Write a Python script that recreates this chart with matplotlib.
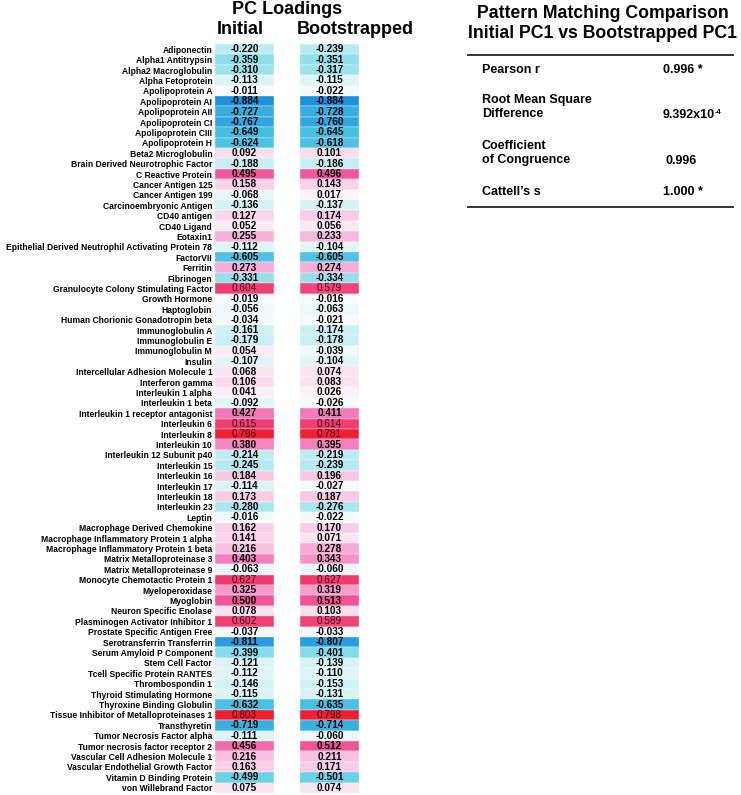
import numpy as np
import matplotlib
matplotlib.use('Agg')
import matplotlib.pyplot as plt
from matplotlib.colors import LinearSegmentedColormap, Normalize
from matplotlib.lines import Line2D

plt.rcParams['font.family'] = ['Liberation Sans', 'DejaVu Sans']
plt.rcParams['font.weight'] = 'bold'

# ── Data ───────────────────────────────────────────────────────────────────
markers = [
    'Adiponectin', 'Alpha1 Antitrypsin', 'Alpha2 Macroglobulin', 'Alpha Fetoprotein',
    'Apolipoprotein A', 'Apolipoprotein AI', 'Apolipoprotein AII', 'Apolipoprotein CI',
    'Apolipoprotein CIII', 'Apolipoprotein H', 'Beta2 Microglobulin',
    'Brain Derived Neurotrophic Factor', 'C Reactive Protein', 'Cancer Antigen 125',
    'Cancer Antigen 199', 'Carcinoembryonic Antigen', 'CD40 antigen', 'CD40 Ligand',
    'Eotaxin1', 'Epithelial Derived Neutrophil Activating Protein 78', 'FactorVII',
    'Ferritin', 'Fibrinogen', 'Granulocyte Colony Stimulating Factor', 'Growth Hormone',
    'Haptoglobin', 'Human Chorionic Gonadotropin beta', 'Immunoglobulin A',
    'Immunoglobulin E', 'Immunoglobulin M', 'Insulin', 'Intercellular Adhesion Molecule 1',
    'Interferon gamma', 'Interleukin 1 alpha', 'Interleukin 1 beta',
    'Interleukin 1 receptor antagonist', 'Interleukin 6', 'Interleukin 8', 'Interleukin 10',
    'Interleukin 12 Subunit p40', 'Interleukin 15', 'Interleukin 16', 'Interleukin 17',
    'Interleukin 18', 'Interleukin 23', 'Leptin', 'Macrophage Derived Chemokine',
    'Macrophage Inflammatory Protein 1 alpha', 'Macrophage Inflammatory Protein 1 beta',
    'Matrix Metalloproteinase 3', 'Matrix Metalloproteinase 9',
    'Monocyte Chemotactic Protein 1', 'Myeloperoxidase', 'Myoglobin',
    'Neuron Specific Enolase', 'Plasminogen Activator Inhibitor 1',
    'Prostate Specific Antigen Free', 'Serotransferrin Transferrin',
    'Serum Amyloid P Component', 'Stem Cell Factor', 'Tcell Specific Protein RANTES',
    'Thrombospondin 1', 'Thyroid Stimulating Hormone', 'Thyroxine Binding Globulin',
    'Tissue Inhibitor of Metalloproteinases 1', 'Transthyretin',
    'Tumor Necrosis Factor alpha', 'Tumor necrosis factor receptor 2',
    'Vascular Cell Adhesion Molecule 1', 'Vascular Endothelial Growth Factor',
    'Vitamin D Binding Protein', 'von Willebrand Factor',
]

initial = [
    -0.220, -0.359, -0.310, -0.113, -0.011, -0.884, -0.727, -0.767, -0.649, -0.624,
    0.092, -0.188, 0.495, 0.158, -0.068, -0.136, 0.127, 0.052, 0.255, -0.112,
    -0.605, 0.273, -0.331, 0.604, -0.019, -0.056, -0.034, -0.161, -0.179, 0.054,
    -0.107, 0.068, 0.106, 0.041, -0.092, 0.427, 0.615, 0.796, 0.380, -0.214,
    -0.245, 0.184, -0.114, 0.173, -0.280, -0.016, 0.162, 0.141, 0.216, 0.403,
    -0.063, 0.627, 0.325, 0.500, 0.078, 0.602, -0.037, -0.811, -0.399, -0.121,
    -0.112, -0.146, -0.115, -0.632, 0.803, -0.719, -0.111, 0.456, 0.216, 0.163,
    -0.499, 0.075,
]

bootstrapped = [
    -0.239, -0.351, -0.317, -0.115, -0.022, -0.884, -0.728, -0.760, -0.645, -0.618,
    0.101, -0.186, 0.496, 0.143, 0.017, -0.137, 0.174, 0.056, 0.233, -0.104,
    -0.605, 0.274, -0.334, 0.579, -0.016, -0.063, -0.021, -0.174, -0.178, -0.039,
    -0.104, 0.074, 0.083, 0.026, -0.026, 0.411, 0.614, 0.781, 0.395, -0.219,
    -0.239, 0.196, -0.027, 0.187, -0.276, -0.022, 0.170, 0.071, 0.278, 0.343,
    -0.060, 0.627, 0.319, 0.513, 0.103, 0.589, -0.033, -0.807, -0.401, -0.139,
    -0.110, -0.153, -0.131, -0.635, 0.798, -0.714, -0.060, 0.512, 0.211, 0.171,
    -0.501, 0.074,
]

col_headers = ['Initial', 'Bootstrapped']

stat_names = ['Pearson r', 'Root Mean Square\nDifference', 'Coefficient\nof Congruence', "Cattell\u2019s s"]
stat_values = ['0.996 *', '9.392x10', '0.996', '1.000 *']

# ── Colour scale: blue (negative) → white → pink/red (positive) ─────────────
anchors = [(-0.9, '#1E8EDC'), (-0.8, '#2C9FDF'), (-0.65, '#46BEE1'), (-0.5, '#6BD2E6'),
           (-0.35, '#92DFEA'), (-0.2, '#C3EEF2'), (-0.1, '#E2F5F7'), (0.0, '#FBFBFB'),
           (0.08, '#FAE2EF'), (0.2, '#F8C6E4'), (0.3, '#F5A3D0'), (0.42, '#F27AB6'),
           (0.5, '#F0579A'), (0.62, '#F03C70'), (0.8, '#EE1F32'), (0.9, '#EC1424')]
cmap = LinearSegmentedColormap.from_list(
    'pc', [((v + 0.9) / 1.8, c) for v, c in anchors])
norm = Normalize(-0.9, 0.9)

W, H = 741, 795
fig = plt.figure(figsize=(W / 100, H / 100), dpi=100)
fig.patch.set_facecolor('white')

def fx(px):
    return px / W

def fy(py):
    return 1 - py / H

# ── Table of loadings ──────────────────────────────────────────────────────
tbl_top, tbl_bot = 44, 793
ax = fig.add_axes([fx(215), fy(tbl_bot), fx(359) - fx(215), fy(tbl_top) - fy(tbl_bot)])
n = len(markers)
rows = np.arange(n)
col_left = [0, 85]
col_w = 59

for left, vals in zip(col_left, [initial, bootstrapped]):
    vals = np.array(vals)
    ax.barh(rows, col_w, left=left, height=1.0, color=cmap(norm(vals)),
            edgecolor='white', linewidth=0.25)
    for r, v in zip(rows, vals):
        strong = v > 0.57
        ax.text(left + col_w / 2, r, f'{v:.3f}', ha='center', va='center',
                fontsize=7.2, fontweight='normal' if strong else 'bold',
                color='#4a0a14' if strong else 'black')

ax.set_xlim(0, 144)
ax.set_ylim(n - 0.5, -0.5)
ax.set_yticks(rows, markers, fontsize=6.15, fontweight='bold')
ax.tick_params(axis='y', length=0, pad=2)
ax.set_xticks([])
for s in ax.spines.values():
    s.set_visible(False)

fig.text(fx(287), fy(9), 'PC Loadings', ha='center', va='center', fontsize=13, fontweight='bold')
fig.text(fx(240), fy(29), col_headers[0], ha='center', va='center', fontsize=13, fontweight='bold')
fig.text(fx(355), fy(29), col_headers[1], ha='center', va='center', fontsize=13, fontweight='bold')

# ── Pattern matching comparison panel ──────────────────────────────────────
fig.text(fx(603), fy(13), 'Pattern Matching Comparison', ha='center', va='center',
         fontsize=12.7, fontweight='bold')
fig.text(fx(603), fy(33), 'Initial PC1 vs Bootstrapped PC1', ha='center', va='center',
         fontsize=12.7, fontweight='bold')
for yy in [55, 207]:
    fig.add_artist(Line2D([fx(468), fx(733)], [fy(yy), fy(yy)], color='#333333', lw=1.4))

name_y = [70, 107, 153, 192]
val_y = [70, 115, 161, 192]
val_x = [663, 663, 665, 663]
for nm, ny, val, vy, vx in zip(stat_names, name_y, stat_values, val_y, val_x):
    fig.text(fx(482), fy(ny), nm, ha='left', va='center', fontsize=9, fontweight='bold',
             linespacing=1.25)
    t = fig.text(fx(vx), fy(vy), val, ha='left', va='center', fontsize=9, fontweight='bold')
    if val.endswith('x10'):
        # superscript exponent of the RMS difference
        plt.annotate('-4', xy=(1.0, 1.0), xycoords=t, ha='left', va='top',
                     fontsize=5.5, fontweight='bold', annotation_clip=False)

fig.savefig('out.png', dpi=100, facecolor='white')
